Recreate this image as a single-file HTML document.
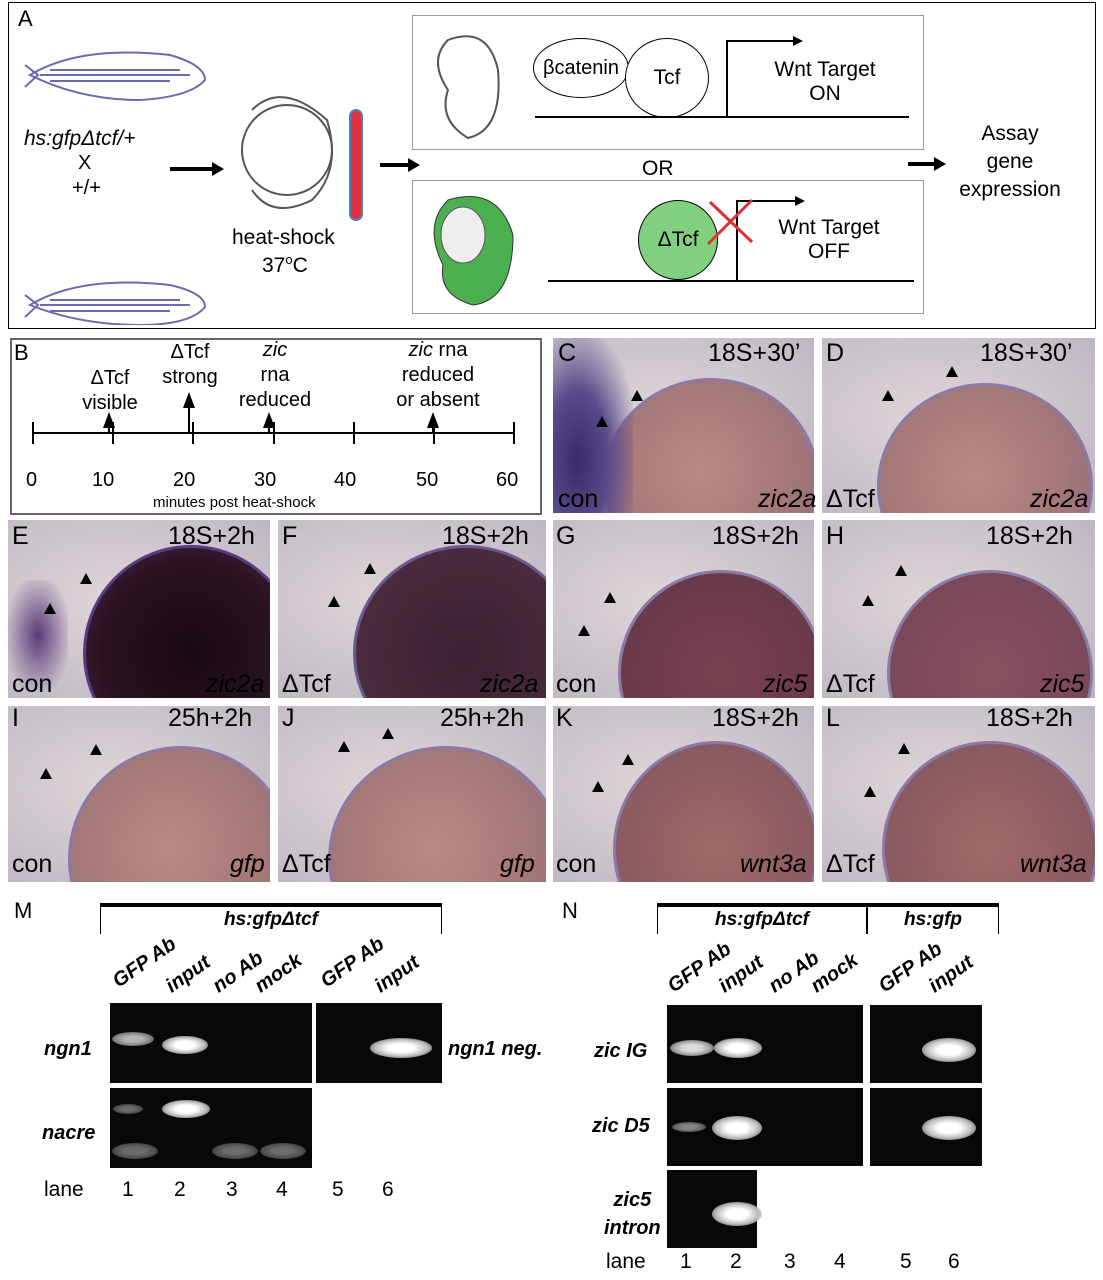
<!DOCTYPE html>
<html><head><meta charset="utf-8"><style>
body{margin:0;background:#fff;width:1103px;height:1280px;position:relative;overflow:hidden;font-family:"Liberation Sans",Arial,sans-serif;}
.a{position:absolute}
.emb{position:absolute;overflow:hidden;background:radial-gradient(ellipse at 40% 45%,#ddd5d8 0%,#cbc3cb 60%,#b9b2c0 100%);}
.yolk{position:absolute;border-radius:50%;background:radial-gradient(circle at 45% 45%,#b88a86 0%,#a57878 55%,#8b6a80 100%);border:3px solid #8b7aa6;}
.lab{position:absolute;font-size:25px;color:#000}
.it{font-style:italic}
.gel{position:absolute;background:#080808}
.band{position:absolute;border-radius:50%;background:radial-gradient(ellipse,#fff 30%,#bbb 60%,rgba(255,255,255,0) 100%)}
.tri{position:absolute;width:0;height:0;border-left:6px solid transparent;border-right:6px solid transparent;border-bottom:11px solid #000}
.gl{position:absolute;font-weight:bold;font-style:italic;font-size:20px;transform:rotate(-35deg);transform-origin:left bottom;white-space:nowrap}
</style></head><body>
<!-- Panel A -->
<div class="a" style="left:8px;top:2px;width:1086px;height:325px;border:1.5px solid #000"></div>
<div class="lab" style="left:18px;top:6px;font-size:22px">A</div>
<svg class="a" style="left:20px;top:25px" width="200" height="300">
<g fill="none" stroke="#6a6ab0" stroke-width="2">
<path d="M10 50 Q60 20 150 30 Q185 40 185 55 Q170 72 120 75 Q60 75 10 50 Z M5 40 L18 50 L5 62"/>
<path d="M20 50 H170 M30 45 H160 M30 56 H150"/>
<path d="M10 280 Q60 250 150 260 Q185 268 185 282 Q170 300 120 300 Q60 300 10 280 Z M5 270 L18 280 L5 292"/>
<path d="M20 280 H170 M30 275 H160 M30 286 H150"/>
</g></svg>
<div class="a it" style="left:24px;top:127px;font-size:21px">hs:gfpΔtcf/+</div>
<div class="a" style="left:78px;top:152px;font-size:20px">X</div>
<div class="a" style="left:72px;top:177px;font-size:20px">+/+</div>
<div class="a" style="left:170px;top:167px;width:45px;height:4px;background:#000"></div>
<div class="a" style="left:212px;top:162px;border-left:12px solid #000;border-top:7px solid transparent;border-bottom:7px solid transparent"></div>
<svg class="a" style="left:232px;top:80px" width="140" height="150"><g fill="none" stroke="#555" stroke-width="2"><circle cx="55" cy="70" r="45"/><path d="M20 30 Q50 0 95 40 Q110 90 80 120 Q40 140 20 110"/></g>
<rect x="118" y="30" width="12" height="110" rx="6" fill="#e03040" stroke="#5080c0" stroke-width="2"/></svg>
<div class="a" style="left:232px;top:226px;font-size:21px">heat-shock</div>
<div class="a" style="left:262px;top:252px;font-size:21px">37<sup style="font-size:13px">o</sup>C</div>
<div class="a" style="left:380px;top:163px;width:30px;height:4px;background:#000"></div>
<div class="a" style="left:408px;top:158px;border-left:12px solid #000;border-top:7px solid transparent;border-bottom:7px solid transparent"></div>
<div class="a" style="left:412px;top:15px;width:510px;height:133px;border:1.5px solid #999"></div>
<div class="a" style="left:412px;top:180px;width:510px;height:132px;border:1.5px solid #999"></div>
<svg class="a" style="left:418px;top:20px" width="100" height="125"><g fill="none" stroke="#555" stroke-width="2"><path d="M30 20 Q70 5 80 50 Q85 110 50 118 Q20 100 30 70 Q10 40 30 20Z"/></g></svg>
<svg class="a" style="left:418px;top:185px" width="100" height="125"><path d="M30 15 Q80 0 95 50 Q95 115 55 120 Q20 110 25 80 Q5 40 30 15Z" fill="#4cb050" stroke="#333"/><ellipse cx="45" cy="50" rx="22" ry="28" fill="#eee" stroke="#555"/></svg>
<div class="a" style="left:533px;top:38px;width:94px;height:58px;border:1.5px solid #000;border-radius:50%;font-size:20px;text-align:center;line-height:58px">βcatenin</div>
<div class="a" style="left:625px;top:38px;width:82px;height:78px;border:1.5px solid #000;border-radius:50%;background:#fff;font-size:21px;text-align:center;line-height:78px">Tcf</div>
<div class="a" style="left:535px;top:116px;width:374px;height:1.5px;background:#000"></div>
<div class="a" style="left:726px;top:40px;width:1.5px;height:76px;background:#000"></div>
<div class="a" style="left:726px;top:40px;width:70px;height:1.5px;background:#000"></div>
<div class="a" style="left:793px;top:36px;border-left:10px solid #000;border-top:5px solid transparent;border-bottom:5px solid transparent"></div>
<div class="a" style="left:762px;top:58px;font-size:21px;text-align:center;width:126px">Wnt Target<br>ON</div>
<div class="a" style="left:642px;top:157px;font-size:21px">OR</div>
<div class="a" style="left:638px;top:200px;width:78px;height:78px;border:1.5px solid #000;border-radius:50%;background:#80d080;font-size:21px;text-align:center;line-height:78px">ΔTcf</div>
<div class="a" style="left:548px;top:280px;width:366px;height:1.5px;background:#000"></div>
<div class="a" style="left:736px;top:200px;width:1.5px;height:80px;background:#000"></div>
<div class="a" style="left:736px;top:200px;width:62px;height:1.5px;background:#000"></div>
<div class="a" style="left:795px;top:196px;border-left:10px solid #000;border-top:5px solid transparent;border-bottom:5px solid transparent"></div>
<svg class="a" style="left:700px;top:192px" width="60" height="60"><path d="M8 52 L52 8 M10 10 L52 50" stroke="#e03030" stroke-width="3"/></svg>
<div class="a" style="left:764px;top:216px;font-size:21px;text-align:center;width:130px">Wnt Target<br>OFF</div>
<div class="a" style="left:908px;top:162px;width:28px;height:4px;background:#000"></div>
<div class="a" style="left:934px;top:157px;border-left:12px solid #000;border-top:7px solid transparent;border-bottom:7px solid transparent"></div>
<div class="a" style="left:945px;top:120px;font-size:21px;text-align:center;width:130px;line-height:28px">Assay<br>gene<br>expression</div>
<!-- Panel B -->
<div class="a" style="left:10px;top:338px;width:528px;height:173px;border:2px solid #666"></div>
<div class="lab" style="left:14px;top:340px;font-size:22px">B</div>
<div class="a" style="left:33px;top:432px;width:482px;height:2px;background:#000"></div>
<div class="a" style="left:24px;top:469px;font-size:20px;width:520px">
<span class="a" style="left:2px">0</span><span class="a" style="left:68px">10</span><span class="a" style="left:149px">20</span><span class="a" style="left:230px">30</span><span class="a" style="left:310px">40</span><span class="a" style="left:392px">50</span><span class="a" style="left:472px">60</span></div>
<div class="a" style="left:153px;top:494px;font-size:15px">minutes post heat-shock</div>
<svg class="a" style="left:0;top:0" width="560" height="520"><g stroke="#000" stroke-width="2">
<path d="M33 422V444M113 422V444M193 422V444M274 422V444M354 422V444M434 422V444M514 422V444"/>
<path d="M109 432V425M189 432V405M269 432V425M433 432V425"/>
</g><g fill="#000"><path d="M103 428 l6 -16 l6 16z M183 408 l6 -16 l6 16z M263 428 l6 -16 l6 16z M427 428 l6 -16 l6 16z"/></g></svg>
<div class="a" style="left:70px;top:366px;font-size:20px;text-align:center;width:80px;line-height:25px">ΔTcf<br>visible</div>
<div class="a" style="left:152px;top:340px;font-size:20px;text-align:center;width:76px;line-height:25px">ΔTcf<br>strong</div>
<div class="a" style="left:220px;top:338px;font-size:20px;text-align:center;width:110px;line-height:25px"><i>zic</i><br>rna<br>reduced</div>
<div class="a" style="left:380px;top:338px;font-size:20px;text-align:center;width:116px;line-height:25px"><i>zic</i> rna<br>reduced<br>or absent</div>
<!-- embryo panels -->
<div class="emb" style="left:553px;top:338px;width:261px;height:175px"><div class="yolk" style="left:50px;top:40px;width:210px;height:200px"></div><div class="a" style="left:0;top:0;width:80px;height:175px;background:radial-gradient(ellipse at 30% 70%,#3a2a6a 0%,#5a4a8a 40%,rgba(100,80,140,0) 80%)"></div></div>
<div class="emb" style="left:822px;top:338px;width:273px;height:175px"><div class="yolk" style="left:55px;top:45px;width:210px;height:200px"></div></div>
<div class="emb" style="left:8px;top:520px;width:262px;height:178px"><div class="yolk" style="left:75px;top:25px;width:210px;height:210px;background:radial-gradient(circle,#1a0a14 0%,#2a1220 60%,#4a2a50 100%);border-color:#5a3a80"></div><div class="a" style="left:0;top:60px;width:60px;height:110px;background:radial-gradient(ellipse,#5a3a7a 0%,rgba(110,80,140,0) 80%)"></div></div>
<div class="emb" style="left:278px;top:520px;width:268px;height:178px"><div class="yolk" style="left:75px;top:25px;width:220px;height:210px;background:radial-gradient(circle,#3a2030 0%,#4a2a3c 70%,#5a3a55 100%);border-color:#6a5a90"></div></div>
<div class="emb" style="left:553px;top:520px;width:261px;height:178px"><div class="yolk" style="left:65px;top:50px;width:200px;height:200px;background:radial-gradient(circle,#7a4050 0%,#6a3a4a 70%,#5a3a6a 100%)"></div></div>
<div class="emb" style="left:822px;top:520px;width:273px;height:178px"><div class="yolk" style="left:65px;top:50px;width:200px;height:200px;background:radial-gradient(circle,#8a5060 0%,#7a4858 70%,#6a4a7a 100%)"></div></div>
<div class="emb" style="left:8px;top:706px;width:262px;height:176px"><div class="yolk" style="left:60px;top:40px;width:220px;height:220px"></div></div>
<div class="emb" style="left:278px;top:706px;width:268px;height:176px"><div class="yolk" style="left:50px;top:40px;width:230px;height:220px"></div></div>
<div class="emb" style="left:553px;top:706px;width:261px;height:176px"><div class="yolk" style="left:60px;top:35px;width:200px;height:210px;background:radial-gradient(circle,#a06a68 0%,#8a5a62 70%,#7a5a80 100%)"></div></div>
<div class="emb" style="left:822px;top:706px;width:273px;height:176px"><div class="yolk" style="left:60px;top:35px;width:210px;height:210px;background:radial-gradient(circle,#a06a68 0%,#8a5a62 70%,#7a5a80 100%)"></div></div>
<!-- labels -->
<div class="lab" style="left:558px;top:339px">C</div><div class="lab" style="left:708px;top:339px">18S+30’</div>
<div class="lab" style="left:558px;top:485px">con</div><div class="lab it" style="left:758px;top:485px">zic2a</div>
<div class="lab" style="left:826px;top:339px">D</div><div class="lab" style="left:980px;top:339px">18S+30’</div>
<div class="lab" style="left:826px;top:485px">ΔTcf</div><div class="lab it" style="left:1030px;top:485px">zic2a</div>
<div class="lab" style="left:12px;top:522px">E</div><div class="lab" style="left:168px;top:522px">18S+2h</div>
<div class="lab" style="left:12px;top:670px">con</div><div class="lab it" style="left:206px;top:670px">zic2a</div>
<div class="lab" style="left:282px;top:522px">F</div><div class="lab" style="left:442px;top:522px">18S+2h</div>
<div class="lab" style="left:282px;top:670px">ΔTcf</div><div class="lab it" style="left:480px;top:670px">zic2a</div>
<div class="lab" style="left:556px;top:522px">G</div><div class="lab" style="left:712px;top:522px">18S+2h</div>
<div class="lab" style="left:556px;top:670px">con</div><div class="lab it" style="left:763px;top:670px">zic5</div>
<div class="lab" style="left:826px;top:522px">H</div><div class="lab" style="left:986px;top:522px">18S+2h</div>
<div class="lab" style="left:826px;top:670px">ΔTcf</div><div class="lab it" style="left:1040px;top:670px">zic5</div>
<div class="lab" style="left:12px;top:704px">I</div><div class="lab" style="left:168px;top:704px">25h+2h</div>
<div class="lab" style="left:12px;top:850px">con</div><div class="lab it" style="left:230px;top:850px">gfp</div>
<div class="lab" style="left:282px;top:704px">J</div><div class="lab" style="left:440px;top:704px">25h+2h</div>
<div class="lab" style="left:282px;top:850px">ΔTcf</div><div class="lab it" style="left:500px;top:850px">gfp</div>
<div class="lab" style="left:556px;top:704px">K</div><div class="lab" style="left:712px;top:704px">18S+2h</div>
<div class="lab" style="left:556px;top:850px">con</div><div class="lab it" style="left:740px;top:850px">wnt3a</div>
<div class="lab" style="left:826px;top:704px">L</div><div class="lab" style="left:986px;top:704px">18S+2h</div>
<div class="lab" style="left:826px;top:850px">ΔTcf</div><div class="lab it" style="left:1020px;top:850px">wnt3a</div>
<div class="tri" style="left:596px;top:416px"></div><div class="tri" style="left:631px;top:390px"></div>
<div class="tri" style="left:882px;top:390px"></div><div class="tri" style="left:946px;top:366px"></div>
<div class="tri" style="left:44px;top:603px"></div><div class="tri" style="left:80px;top:573px"></div>
<div class="tri" style="left:328px;top:596px"></div><div class="tri" style="left:364px;top:563px"></div>
<div class="tri" style="left:578px;top:625px"></div><div class="tri" style="left:604px;top:592px"></div>
<div class="tri" style="left:862px;top:595px"></div><div class="tri" style="left:895px;top:565px"></div>
<div class="tri" style="left:40px;top:768px"></div><div class="tri" style="left:90px;top:744px"></div>
<div class="tri" style="left:338px;top:741px"></div><div class="tri" style="left:382px;top:728px"></div>
<div class="tri" style="left:592px;top:781px"></div><div class="tri" style="left:622px;top:754px"></div>
<div class="tri" style="left:864px;top:786px"></div><div class="tri" style="left:898px;top:743px"></div>
<!-- M -->
<div class="lab" style="left:14px;top:898px;font-size:22px">M</div>
<div class="a" style="left:100px;top:903px;width:340px;height:27px;border-top:4px solid #000;border-left:1.5px solid #000;border-right:1.5px solid #000;text-align:center;font-weight:bold;font-style:italic;font-size:19px;line-height:26px">hs:gfpΔtcf</div>
<div class="gl" style="left:122px;top:970px">GFP Ab</div>
<div class="gl" style="left:175px;top:975px">input</div>
<div class="gl" style="left:222px;top:975px">no Ab</div>
<div class="gl" style="left:264px;top:975px">mock</div>
<div class="gl" style="left:330px;top:970px">GFP Ab</div>
<div class="gl" style="left:384px;top:975px">input</div>
<div class="gel" style="left:110px;top:1003px;width:202px;height:80px"></div>
<div class="gel" style="left:316px;top:1003px;width:126px;height:80px"></div>
<div class="gel" style="left:110px;top:1088px;width:202px;height:80px"></div>
<div class="band" style="left:112px;top:1032px;width:42px;height:14px;opacity:.7"></div>
<div class="band" style="left:162px;top:1036px;width:46px;height:18px"></div>
<div class="band" style="left:370px;top:1038px;width:62px;height:20px"></div>
<div class="band" style="left:113px;top:1104px;width:30px;height:10px;opacity:.4"></div>
<div class="band" style="left:162px;top:1100px;width:48px;height:18px"></div>
<div class="band" style="left:112px;top:1143px;width:46px;height:16px;opacity:.4"></div>
<div class="band" style="left:212px;top:1143px;width:46px;height:16px;opacity:.4"></div>
<div class="band" style="left:260px;top:1143px;width:46px;height:16px;opacity:.4"></div>
<div class="a it" style="left:44px;top:1038px;font-size:20px;font-weight:bold">ngn1</div>
<div class="a it" style="left:448px;top:1038px;font-size:20px;font-weight:bold">ngn1 neg.</div>
<div class="a it" style="left:42px;top:1122px;font-size:20px;font-weight:bold">nacre</div>
<div class="a" style="left:44px;top:1178px;font-size:21px">lane</div>
<div class="a" style="left:122px;top:1178px;font-size:21px;width:300px"><span class="a" style="left:0">1</span><span class="a" style="left:52px">2</span><span class="a" style="left:104px">3</span><span class="a" style="left:154px">4</span><span class="a" style="left:210px">5</span><span class="a" style="left:260px">6</span></div>
<!-- N -->
<div class="lab" style="left:562px;top:898px;font-size:22px">N</div>
<div class="a" style="left:657px;top:903px;width:208px;height:27px;border-top:4px solid #000;border-left:1.5px solid #000;border-right:1.5px solid #000;text-align:center;font-weight:bold;font-style:italic;font-size:19px;line-height:26px">hs:gfpΔtcf</div>
<div class="a" style="left:867px;top:903px;width:130px;height:27px;border-top:4px solid #000;border-left:1.5px solid #000;border-right:1.5px solid #000;text-align:center;font-weight:bold;font-style:italic;font-size:19px;line-height:26px">hs:gfp</div>
<div class="gl" style="left:677px;top:975px">GFP Ab</div>
<div class="gl" style="left:728px;top:975px">input</div>
<div class="gl" style="left:778px;top:975px">no Ab</div>
<div class="gl" style="left:820px;top:975px">mock</div>
<div class="gl" style="left:888px;top:975px">GFP Ab</div>
<div class="gl" style="left:938px;top:975px">input</div>
<div class="gel" style="left:667px;top:1005px;width:196px;height:78px"></div>
<div class="gel" style="left:667px;top:1088px;width:196px;height:78px"></div>
<div class="gel" style="left:667px;top:1170px;width:90px;height:78px"></div>
<div class="gel" style="left:870px;top:1005px;width:112px;height:78px"></div>
<div class="gel" style="left:870px;top:1088px;width:112px;height:78px"></div>
<div class="band" style="left:670px;top:1040px;width:44px;height:16px;opacity:.85"></div>
<div class="band" style="left:714px;top:1038px;width:48px;height:20px"></div>
<div class="band" style="left:922px;top:1038px;width:54px;height:24px"></div>
<div class="band" style="left:672px;top:1122px;width:34px;height:10px;opacity:.5"></div>
<div class="band" style="left:712px;top:1116px;width:50px;height:24px"></div>
<div class="band" style="left:922px;top:1116px;width:54px;height:24px"></div>
<div class="band" style="left:712px;top:1202px;width:50px;height:24px"></div>
<div class="a it" style="left:594px;top:1040px;font-size:20px;font-weight:bold">zic IG</div>
<div class="a it" style="left:592px;top:1115px;font-size:20px;font-weight:bold">zic D5</div>
<div class="a it" style="left:604px;top:1186px;font-size:20px;font-weight:bold;text-align:center;line-height:28px">zic5<br>intron</div>
<div class="a" style="left:606px;top:1250px;font-size:21px">lane</div>
<div class="a" style="left:680px;top:1250px;font-size:21px;width:300px"><span class="a" style="left:0">1</span><span class="a" style="left:50px">2</span><span class="a" style="left:104px">3</span><span class="a" style="left:154px">4</span><span class="a" style="left:220px">5</span><span class="a" style="left:268px">6</span></div>
</body></html>
